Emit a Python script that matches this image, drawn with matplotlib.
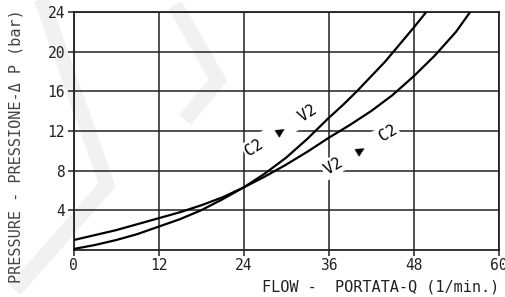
import matplotlib
matplotlib.use('Agg')
import matplotlib.pyplot as plt
from matplotlib.lines import Line2D

# flow (l/min) vs pressure drop (bar)
flow_c2v2 = [0, 3, 6, 9, 12, 15, 18, 21, 24, 27, 30, 33, 36, 38, 40, 42, 44, 46, 48, 49.8]
dp_c2v2 = [0.1, 0.5, 1.0, 1.6, 2.35, 3.1, 4.0, 5.1, 6.3, 7.7, 9.3, 11.2, 13.3, 14.6, 16.0, 17.5, 19.0, 20.7, 22.4, 24.0]

flow_v2c2 = [0, 3, 6, 9, 12, 15, 18, 21, 24, 27, 30, 33, 36, 39, 42, 45, 48, 51, 54, 56]
dp_v2c2 = [1.0, 1.5, 2.0, 2.6, 3.2, 3.8, 4.5, 5.3, 6.3, 7.4, 8.6, 9.9, 11.3, 12.6, 14.0, 15.6, 17.5, 19.6, 22.0, 24.0]

x_ticks = [0, 12, 24, 36, 48, 60]
y_ticks = [4, 8, 12, 16, 20, 24]
x_tick_labels = ['0', '12', '24', '36', '48', '60']
y_tick_labels = ['4', '8', '12', '16', '20', '24']

plt.rcParams['font.family'] = ['DejaVu Sans Mono', 'DejaVu Sans']

fig = plt.figure(figsize=(5.05, 2.97), dpi=100)

# faint watermark chevrons behind the chart (pixel coords, top-left origin)
W, H = 505.0, 297.0
for pts in ([(40, -5), (107, 185), (15, 290)], [(175, 5), (218, 80), (185, 120)]):
    xs = [p[0] / W for p in pts]
    ys = [1 - p[1] / H for p in pts]
    fig.add_artist(Line2D(xs, ys, transform=fig.transFigure, color='#f1f1f1',
                          lw=11, solid_joinstyle='miter', solid_capstyle='butt', zorder=0))

ax = fig.add_axes([73.5 / 505, 47 / 297, 425 / 505, 238 / 297])
ax.patch.set_alpha(0)

ax.plot(flow_c2v2, dp_c2v2, color='black', lw=1.6, zorder=3)
ax.plot(flow_v2c2, dp_v2c2, color='black', lw=1.6, zorder=3)

ax.set_xlim(0, 60)
ax.set_ylim(0, 24)
ax.set_xticks(x_ticks)
ax.set_xticklabels(x_tick_labels)
ax.set_yticks(y_ticks)
ax.set_yticklabels(y_tick_labels)
ax.tick_params(direction='out', length=4, width=1.1, colors='#222222',
               labelsize=10.5, pad=2)
ax.grid(True, color='#222222', lw=1.1)
for s in ax.spines.values():
    s.set_linewidth(1.3)
    s.set_color('#222222')

# direction labels, white box breaks the grid behind them
box = dict(facecolor='white', edgecolor='none', pad=1.5)
ax.text(29.3, 12.1, 'C2  \u25b6  V2', rotation=33, ha='center', va='center',
        fontsize=11, bbox=box, zorder=2)
ax.text(40.5, 10.1, 'V2  \u25b6  C2', rotation=31, ha='center', va='center',
        fontsize=11, bbox=box, zorder=2)

fig.text(499 / 505, 10 / 297, 'FLOW -  PORTATA-Q (1/min.)', ha='right',
         va='center', fontsize=11, color='#222222')
fig.text(16 / 505, 1 - 146 / 297, 'PRESSURE - PRESSIONE-\u0394 P (bar)', rotation=90,
         ha='center', va='center', fontsize=11, color='#444444')

fig.savefig('out.png', dpi=100)
